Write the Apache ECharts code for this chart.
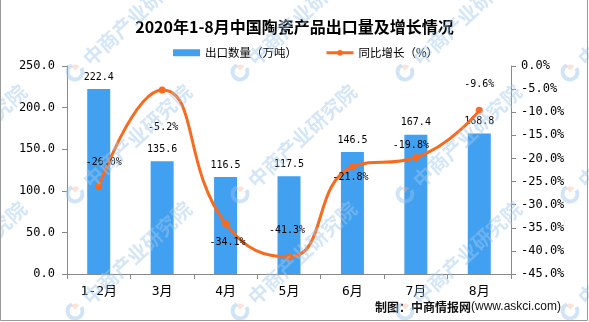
<!DOCTYPE html>
<html>
<head>
<meta charset="utf-8">
<script src="https://cdn.jsdelivr.net/npm/echarts@6/dist/echarts.min.js"></script>
<style>
html,body{margin:0;padding:0;background:#fff;}
#chart{width:589px;height:322px;}
</style>
</head>
<body>
<div id="chart"></div>
<script>
const categories = ['1-2月', '3月', '4月', '5月', '6月', '7月', '8月'];
const exportVolume = [222.4, 135.6, 116.5, 117.5, 146.5, 167.4, 168.8];
const growthRate = [-26.0, -5.2, -34.1, -41.3, -21.8, -19.8, -9.6];
const leftAxis = { min: 0, max: 250, interval: 50 };
const rightAxis = { min: -45, max: 0, interval: 5 };

// label placement (styling only)
const lineLabelOffsets = [[5, -24], [1, 37], [2, 19], [-2, -26], [-2, 11], [-5, -12], [0, -26]];

const MONO = '"DejaVu Sans Mono", "Noto Sans CJK SC", monospace';
const CJK = '"Noto Sans CJK SC", sans-serif';
const BAR_COLOR = '#41A0F0';
const LINE_COLOR = '#FA6A1E';
const AXIS_COLOR = '#898989';

// watermarks
const wmCols = [-90, 75, 240, 405, 570];
const wmRows = [72, 194, 311];
const graphics = [];
wmRows.forEach(y => wmCols.forEach(x => {
  graphics.push({
    type: 'group', x: x, y: y, rotation: 0.75, z: 100, silent: true,
    children: [
      { type: 'arc', shape: { cx: 0, cy: 0, r: 7.5, startAngle: 0.2, endAngle: Math.PI * 1.6, clockwise: true }, style: { fill: 'none', stroke: 'rgba(150,195,235,0.45)', lineWidth: 4 }, z: 100 },
      { type: 'sector', shape: { cx: 1, cy: -1, r0: 0, r: 6, startAngle: -Math.PI / 2, endAngle: 0 }, style: { fill: 'rgba(245,175,150,0.35)' }, z: 101 },
      { type: 'text', x: 15, y: 0, style: { text: '中商产业研究院', font: 'bold 20px "Noto Sans CJK SC"', fill: 'rgba(160,200,235,0.45)', verticalAlign: 'middle', align: 'left' }, z: 100 }
    ]
  });
}));
graphics.push({
  type: 'text', right: 28, top: 301, z: 50,
  style: {
    text: '{a|制图：中商情报网}{b|(www.askci.com)}',
    rich: {
      a: { fontFamily: CJK, fontSize: 12, fontWeight: 'bold', fill: '#111' },
      b: { fontFamily: '"Liberation Sans", Arial, sans-serif', fontSize: 12, fill: '#111' }
    }
  }
});
graphics.push({
  type: 'rect', z: 200, silent: true,
  shape: { x: 0.5, y: -3, width: 587, height: 323.5 },
  style: { fill: 'none', stroke: '#9a9a9a', lineWidth: 1 }
});

const chart = echarts.init(document.getElementById('chart'), null, { renderer: 'canvas' });
chart.setOption({
  animation: false,
  backgroundColor: '#fff',
  title: {
    text: '2020年1-8月中国陶瓷产品出口量及增长情况',
    left: 'center', top: 13,
    textStyle: { fontFamily: CJK, fontSize: 16, fontWeight: 'bold', color: '#000', lineHeight: 18 }
  },
  legend: {
    top: 42, left: 168, itemGap: 28, itemWidth: 27, itemHeight: 7,
    textStyle: { fontFamily: CJK, fontSize: 11.5, color: '#000' },
    data: [
      { name: '出口数量（万吨）', icon: 'rect' },
      { name: '同比增长（%）', lineStyle: { width: 3, color: LINE_COLOR } }
    ]
  },
  grid: { left: 67, right: 78, top: 66, bottom: 48, containLabel: false },
  xAxis: {
    type: 'category', data: categories, boundaryGap: true,
    axisLine: { show: true, lineStyle: { color: AXIS_COLOR, width: 1 } },
    axisTick: { show: true, length: 5, alignWithLabel: false, lineStyle: { color: AXIS_COLOR } },
    axisLabel: { fontFamily: MONO, fontSize: 13, color: '#000', margin: 11 },
    splitLine: { show: false }
  },
  yAxis: [
    {
      type: 'value', position: 'left', min: leftAxis.min, max: leftAxis.max, interval: leftAxis.interval,
      axisLine: { show: true, lineStyle: { color: AXIS_COLOR, width: 1 } },
      axisTick: { show: true, length: 5, lineStyle: { color: AXIS_COLOR } },
      axisLabel: { fontFamily: MONO, fontSize: 12, color: '#000', margin: 12, formatter: v => v.toFixed(1) },
      splitLine: { show: false }
    },
    {
      type: 'value', position: 'right', min: rightAxis.min, max: rightAxis.max, interval: rightAxis.interval,
      axisLine: { show: true, lineStyle: { color: AXIS_COLOR, width: 1 } },
      axisTick: { show: true, length: 5, lineStyle: { color: AXIS_COLOR } },
      axisLabel: { fontFamily: MONO, fontSize: 12, color: '#000', margin: 10, formatter: v => v.toFixed(1) + '%' },
      splitLine: { show: false }
    }
  ],
  series: [
    {
      name: '出口数量（万吨）', type: 'bar', yAxisIndex: 0, data: exportVolume,
      barWidth: 23, itemStyle: { color: BAR_COLOR },
      label: { show: true, position: 'top', distance: 7, fontFamily: MONO, fontSize: 10, color: '#000', formatter: p => p.value.toFixed(1) }
    },
    {
      name: '同比增长（%）', type: 'line', yAxisIndex: 1, smooth: 0.5,
      symbol: 'circle', symbolSize: 7,
      lineStyle: { color: LINE_COLOR, width: 3 },
      itemStyle: { color: LINE_COLOR },
      data: growthRate.map((v, i) => ({
        value: v,
        label: { show: true, position: 'inside', offset: lineLabelOffsets[i], fontFamily: MONO, fontSize: 10, color: '#000', formatter: p => p.value.toFixed(1) + '%' }
      })),
      z: 5
    }
  ],
  graphic: graphics
});
</script>
</body>
</html>
